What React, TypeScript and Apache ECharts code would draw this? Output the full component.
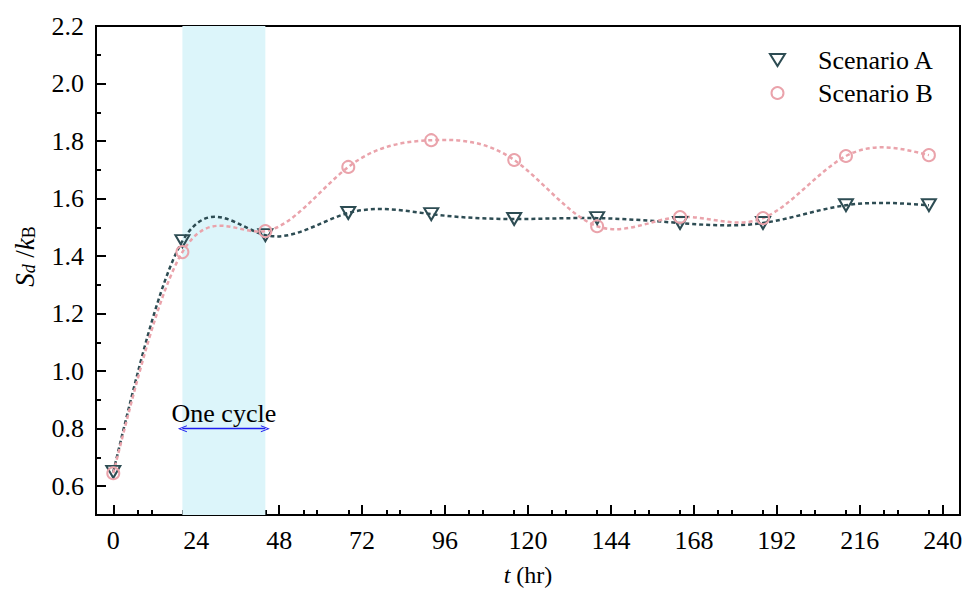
import React, { useEffect, useRef } from "react";
import * as echarts from "echarts";

const hours = [0, 20, 44, 68, 92, 116, 140, 164, 188, 212, 236];
const scenarioA = [0.65, 1.452, 1.473, 1.55, 1.546, 1.529, 1.532, 1.515, 1.515, 1.577, 1.577];
const scenarioB = [0.645, 1.414, 1.487, 1.71, 1.803, 1.734, 1.504, 1.536, 1.532, 1.748, 1.751];
const xMajorTicks = [0, 24, 48, 72, 96, 120, 144, 168, 192, 216, 240];
const xMinorTicks = [7, 11, 20, 31, 35, 44, 55, 59, 68, 79, 83, 92, 103, 107, 116, 127, 131, 140, 151, 155, 164, 175, 179, 188, 199, 203, 212, 223, 227, 236];
const yMajorTicks = [0.6, 0.8, 1.0, 1.2, 1.4, 1.6, 1.8, 2.0, 2.2];
const yMinorTicks = [0.7, 0.9, 1.1, 1.3, 1.5, 1.7, 1.9, 2.1];
const cycleBand = [20, 44];
const cycleArrowY = 0.8;

const FONT = "Liberation Serif";
const FS = 26;
const COLOR_A = "#2d4c53";
const COLOR_B = "#eaa3ab";
const CHEVRON = "path://M0,10 L5,0 L10,10 L8.6,10 L5,2.6 L1.4,10 Z";

// Natural cubic spline rendered as Bezier segments (drawing style of the connecting line)
function splinePath(xs: number[], ys: number[], coord: (p: number[]) => number[]): string {
  const n = xs.length - 1;
  const h: number[] = [];
  for (let i = 0; i < n; i++) h.push(xs[i + 1] - xs[i]);
  const M = new Array(n + 1).fill(0);
  if (n > 1) {
    const a: number[] = [], b: number[] = [], c: number[] = [], d: number[] = [];
    for (let i = 1; i < n; i++) {
      a.push(h[i - 1]);
      b.push(2 * (h[i - 1] + h[i]));
      c.push(h[i]);
      d.push(6 * ((ys[i + 1] - ys[i]) / h[i] - (ys[i] - ys[i - 1]) / h[i - 1]));
    }
    const m = b.length;
    for (let i = 1; i < m; i++) {
      const w = a[i] / b[i - 1];
      b[i] -= w * c[i - 1];
      d[i] -= w * d[i - 1];
    }
    const sol = new Array(m).fill(0);
    sol[m - 1] = d[m - 1] / b[m - 1];
    for (let i = m - 2; i >= 0; i--) sol[i] = (d[i] - c[i] * sol[i + 1]) / b[i];
    for (let i = 1; i < n; i++) M[i] = sol[i - 1];
  }
  const p0 = coord([xs[0], ys[0]]);
  let path = `M${p0[0]},${p0[1]}`;
  for (let i = 0; i < n; i++) {
    const slope = (ys[i + 1] - ys[i]) / h[i];
    const d0 = slope - (h[i] * (2 * M[i] + M[i + 1])) / 6;
    const d1 = slope + (h[i] * (M[i] + 2 * M[i + 1])) / 6;
    const c1 = coord([xs[i] + h[i] / 3, ys[i] + (d0 * h[i]) / 3]);
    const c2 = coord([xs[i + 1] - h[i] / 3, ys[i + 1] - (d1 * h[i]) / 3]);
    const e = coord([xs[i + 1], ys[i + 1]]);
    path += ` C${c1[0]},${c1[1]} ${c2[0]},${c2[1]} ${e[0]},${e[1]}`;
  }
  return path;
}

function curveSeries(name: string, ys: number[], color: string, z: number) {
  return {
    name: name + " curve",
    type: "custom",
    z,
    silent: true,
    data: [[hours[0], ys[0]]],
    renderItem: (_params: any, api: any) => ({
      type: "path",
      shape: { pathData: splinePath(hours, ys, (p) => api.coord(p)) },
      style: { fill: "none", stroke: color, lineWidth: 2.5, lineDash: [4, 3] },
    }),
  };
}

export default function App() {
  const ref = useRef<HTMLDivElement>(null);
  useEffect(() => {
    if (!ref.current) return;
    const chart = echarts.init(ref.current, null, { renderer: "svg" });
    const option: any = {
      animation: false,
      backgroundColor: "#fff",
      textStyle: { fontFamily: FONT },
      grid: {
        left: 96, right: 5, top: 26, bottom: 75,
        containLabel: false, outerBoundsMode: "none",
        show: true, borderColor: "#000", borderWidth: 2, backgroundColor: "transparent",
      },
      legend: {
        orient: "vertical",
        left: 764,
        top: 42,
        itemWidth: 15,
        itemHeight: 12,
        itemGap: 7,
        selectedMode: false,
        textStyle: { fontFamily: FONT, fontSize: FS, color: "#000", padding: [0, 0, 0, 28] },
        data: [
          { name: "Scenario A", icon: "path://M0,0 L10,0 L5,8 Z", itemStyle: { color: "transparent", borderColor: COLOR_A, borderWidth: 2 } },
          { name: "Scenario B", icon: "circle", itemStyle: { color: "transparent", borderColor: COLOR_B, borderWidth: 2 } },
        ],
      },
      xAxis: [
        {
          type: "value",
          min: -5,
          max: 245,
          splitLine: { show: false },
          axisLine: { onZero: false, lineStyle: { color: "#000", width: 2 } },
          axisTick: { inside: true, length: 10, lineStyle: { color: "#000", width: 2 }, customValues: xMajorTicks },
          axisLabel: { customValues: xMajorTicks, fontFamily: FONT, fontSize: FS, color: "#000", margin: 12 },
          name: "{i|t} (hr)",
          nameLocation: "middle",
          nameGap: 48,
          nameTextStyle: {
            fontFamily: FONT,
            fontSize: 24,
            color: "#000",
            lineHeight: 24,
            rich: { i: { fontFamily: FONT, fontSize: 24, fontStyle: "italic", color: "#000", lineHeight: 24 } },
          },
        },
        {
          type: "value",
          min: -5,
          max: 245,
          position: "bottom",
          offset: 0,
          splitLine: { show: false },
          axisLine: { show: false, onZero: false },
          axisTick: { inside: true, length: 5, lineStyle: { color: "#000", width: 2 }, customValues: xMinorTicks },
          axisLabel: { show: false },
        },
      ],
      yAxis: [
        {
          type: "value",
          min: 0.5,
          max: 2.2,
          splitLine: { show: false },
          axisLine: { show: true, onZero: false, lineStyle: { color: "#000", width: 2 } },
          axisTick: { show: true, inside: true, length: 10, lineStyle: { color: "#000", width: 2 }, customValues: yMajorTicks },
          axisLabel: { customValues: yMajorTicks, formatter: (v: number) => v.toFixed(1), fontFamily: FONT, fontSize: FS, color: "#000", margin: 12 },
          name: "{s|S}{sub|d}{n| /}{s|k}{sub2|B}",
          nameLocation: "middle",
          nameGap: 58,
          nameTextStyle: {
            fontFamily: FONT,
            fontSize: FS,
            color: "#000",
            padding: [0, 0, 0, 28],
            rich: {
              s: { fontFamily: FONT, fontSize: 27, fontStyle: "italic", color: "#000", lineHeight: 32, verticalAlign: "bottom" },
              n: { fontFamily: FONT, fontSize: 27, color: "#000", lineHeight: 32, verticalAlign: "bottom" },
              sub: { fontFamily: FONT, fontSize: 18, fontStyle: "italic", color: "#000", lineHeight: 26, verticalAlign: "bottom" },
              sub2: { fontFamily: FONT, fontSize: 18, color: "#000", lineHeight: 26, verticalAlign: "bottom" },
            },
          },
        },
        {
          type: "value",
          min: 0.5,
          max: 2.2,
          position: "left",
          offset: 0,
          splitLine: { show: false },
          axisLine: { show: false, onZero: false },
          axisTick: { show: true, inside: true, length: 5, lineStyle: { color: "#000", width: 2 }, customValues: yMinorTicks },
          axisLabel: { show: false },
        },
      ],
      series: [
        {
          name: "band",
          type: "line",
          data: [],
          z: 1,
          silent: true,
          markArea: {
            silent: true,
            itemStyle: { color: "#dcf5fa" },
            data: [[{ xAxis: cycleBand[0] }, { xAxis: cycleBand[1] }]],
          },
        },
        curveSeries("Scenario A", scenarioA, COLOR_A, 2),
        curveSeries("Scenario B", scenarioB, COLOR_B, 3),
        {
          name: "Scenario A",
          type: "scatter",
          data: hours.map((h, i) => [h, scenarioA[i]]),
          symbol: "triangle",
          symbolRotate: 180,
          symbolSize: [14, 12],
          itemStyle: { color: "transparent", borderColor: COLOR_A, borderWidth: 2, opacity: 1 },
          z: 4,
        },
        {
          name: "Scenario B",
          type: "scatter",
          data: hours.map((h, i) => [h, scenarioB[i]]),
          symbol: "circle",
          symbolSize: 12,
          itemStyle: { color: "transparent", borderColor: COLOR_B, borderWidth: 2, opacity: 1 },
          z: 5,
        },
        {
          name: "arrow",
          type: "line",
          data: [],
          z: 6,
          silent: true,
          markLine: {
            silent: true,
            symbol: [CHEVRON, CHEVRON],
            symbolSize: [7, 9],
            lineStyle: { color: "#1c1cf0", width: 1.3, type: "solid" },
            label: { show: true, position: "middle", formatter: "One cycle", fontFamily: FONT, fontSize: FS, color: "#000", distance: 2 },
            data: [[{ coord: [cycleBand[0], cycleArrowY] }, { coord: [cycleBand[1], cycleArrowY] }]],
          },
        },
      ],
    };
    chart.setOption(option);
    return () => chart.dispose();
  }, []);
  return <div ref={ref} style={{ width: 965, height: 590, position: "absolute", left: 0, top: 0 }} />;
}
